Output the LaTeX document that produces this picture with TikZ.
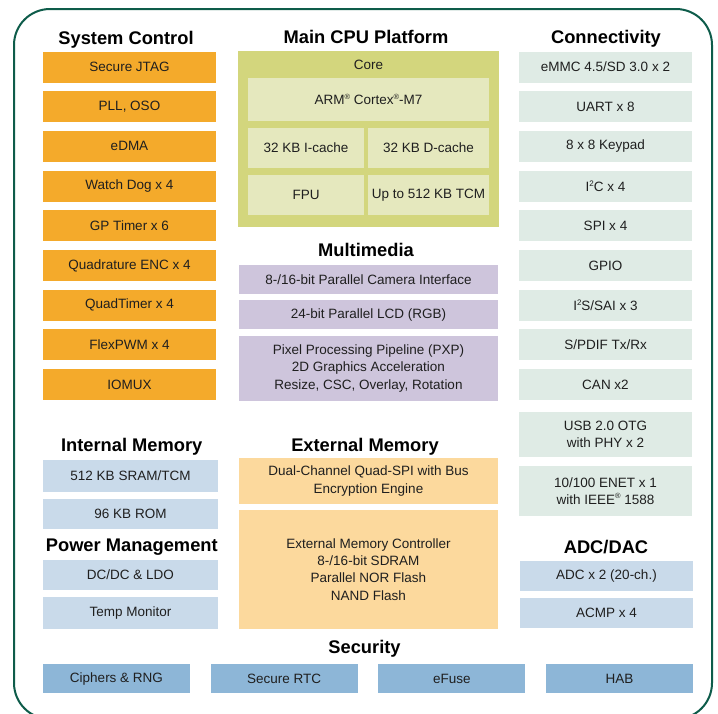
\documentclass[tikz,border=0pt]{standalone}
\usepackage{fontspec}
\setmainfont{Liberation Sans}
\definecolor{frame}{HTML}{0E5C4A}
\definecolor{sysorange}{HTML}{F4AA2B}
\definecolor{cpuouter}{HTML}{D3D67D}
\definecolor{cpuinner}{HTML}{E5E8BE}
\definecolor{mmpurple}{HTML}{CEC5DC}
\definecolor{extmem}{HTML}{FCD99D}
\definecolor{intmem}{HTML}{C9DAEA}
\definecolor{conn}{HTML}{DFEBE5}
\definecolor{secblue}{HTML}{8DB6D7}
\newcommand{\regsup}{\raisebox{.42em}{\fontsize{7.5}{7.5}\selectfont\textregistered}}
\newcommand{\twosup}{\raisebox{.40em}{\fontsize{8}{8}\selectfont 2}}
\begin{document}
\begin{tikzpicture}[x=1pt,y=-1pt,
    blk/.style={rectangle,inner sep=0pt,align=center,text=black!88,
        font=\fontsize{13.5}{17.3}\selectfont},
    hd/.style={anchor=base,inner sep=0pt,font=\fontsize{18.3}{20}\selectfont\bfseries}]
\useasboundingbox (0,0) rectangle (718,713);
\draw[frame,line width=2pt,rounded corners=36pt] (14,9) rectangle (712,719);
\node[hd] (hsys) at (126,44) {System Control};
\node[hd] (hcpu) at (366,43.3) {Main CPU Platform};
\node[hd] (hcon) at (606,43.3) {Connectivity};
\node[hd] (hmm) at (366,256.7) {Multimedia};
\node[hd] (hint) at (131.7,451.7) {Internal Memory};
\node[hd] (hext) at (365,451.7) {External Memory};
\node[hd] (hpow) at (131.8,551.7) {Power Management};
\node[hd] (hadc) at (606,553.3) {ADC/DAC};
\node[hd] (hsec) at (364.5,653.3) {Security};
\foreach \t[count=\i from 0] in {Secure JTAG,{PLL, OSO},eDMA,Watch Dog x 4,GP Timer x 6,
    Quadrature ENC x 4,QuadTimer x 4,FlexPWM x 4,IOMUX} {
    \node[blk,fill=sysorange,minimum width=173pt,minimum height=31pt] (sc\i) at (129.5,{67+39.7*\i}) {\t};
}
\foreach \t[count=\i from 0] in {eMMC 4.5/SD 3.0 x 2,UART x 8,8 x 8 Keypad,I\twosup C x 4,
    SPI x 4,GPIO,I\twosup S/SAI x 3,S/PDIF Tx/Rx,CAN x2} {
    \node[blk,fill=conn,minimum width=173pt,minimum height=31pt] (con\i) at (605.5,{67+39.7*\i}) {\t};
}
\node[blk,fill=conn,minimum width=173pt,minimum height=45pt] (con9) at (605.5,434.5) {USB 2.0 OTG\\with PHY x 2};
\node[blk,fill=conn,minimum width=173pt,minimum height=50pt] (con10) at (605.5,491)
    {10/100 ENET x 1\\with IEEE\regsup{} 1588};
\node[blk,fill=cpuouter,minimum width=261pt,minimum height=176pt] (cpu) at (368.5,139) {};
\node[blk,anchor=base] (core) at (368.5,69) {Core};
\node[blk,fill=cpuinner,minimum width=241pt,minimum height=43pt] (arm) at (368.5,99.5)
    {ARM\regsup{} Cortex\regsup-M7};
\node[blk,fill=cpuinner,minimum width=116pt,minimum height=40pt] (icache) at (306,148) {32 KB I-cache};
\node[blk,fill=cpuinner,minimum width=121pt,minimum height=40pt] (dcache) at (428.5,148) {32 KB D-cache};
\node[blk,fill=cpuinner,minimum width=116pt,minimum height=40pt] (fpu) at (306,195) {FPU};
\node[blk,fill=cpuinner,minimum width=121pt,minimum height=40pt] (tcm) at (428.5,195) {Up to 512 KB TCM};
\node[blk,fill=mmpurple,minimum width=259pt,minimum height=29pt] (mm1) at (368.5,279.5)
    {8-/16-bit Parallel Camera Interface};
\node[blk,fill=mmpurple,minimum width=259pt,minimum height=29pt] (mm2) at (368.5,314.5)
    {24-bit Parallel LCD (RGB)};
\node[blk,fill=mmpurple,minimum width=259pt,minimum height=65pt] (mm3) at (368.5,368.5)
    {Pixel Processing Pipeline (PXP)\\2D Graphics Acceleration\\Resize, CSC, Overlay, Rotation};
\node[blk,fill=extmem,minimum width=259pt,minimum height=46pt] (ext1) at (368.5,481)
    {Dual-Channel Quad-SPI with Bus\\Encryption Engine};
\node[blk,fill=extmem,minimum width=259pt,minimum height=119pt] (ext2) at (368.5,569.5)
    {External Memory Controller\\8-/16-bit SDRAM\\Parallel NOR Flash\\NAND Flash};
\node[blk,fill=intmem,minimum width=175pt,minimum height=32pt] (sram) at (130.5,476) {512 KB SRAM/TCM};
\node[blk,fill=intmem,minimum width=175pt,minimum height=30pt] (rom) at (130.5,514) {96 KB ROM};
\node[blk,fill=intmem,minimum width=175pt,minimum height=30pt] (dcdc) at (130.5,575) {DC/DC \& LDO};
\node[blk,fill=intmem,minimum width=175pt,minimum height=32pt] (temp) at (130.5,613) {Temp Monitor};
\node[blk,fill=intmem,minimum width=173pt,minimum height=30pt] (adc) at (606.5,576) {ADC x 2 (20-ch.)};
\node[blk,fill=intmem,minimum width=173pt,minimum height=30pt] (acmp) at (606.5,613) {ACMP x 4};
\foreach \t[count=\i from 0] in {Ciphers \& RNG,Secure RTC,eFuse,HAB} {
    \node[blk,fill=secblue,minimum width=147pt,minimum height=29pt] (sec\i) at ({116.5+167.7*\i},678.5) {\t};
}
\end{tikzpicture}
\end{document}
